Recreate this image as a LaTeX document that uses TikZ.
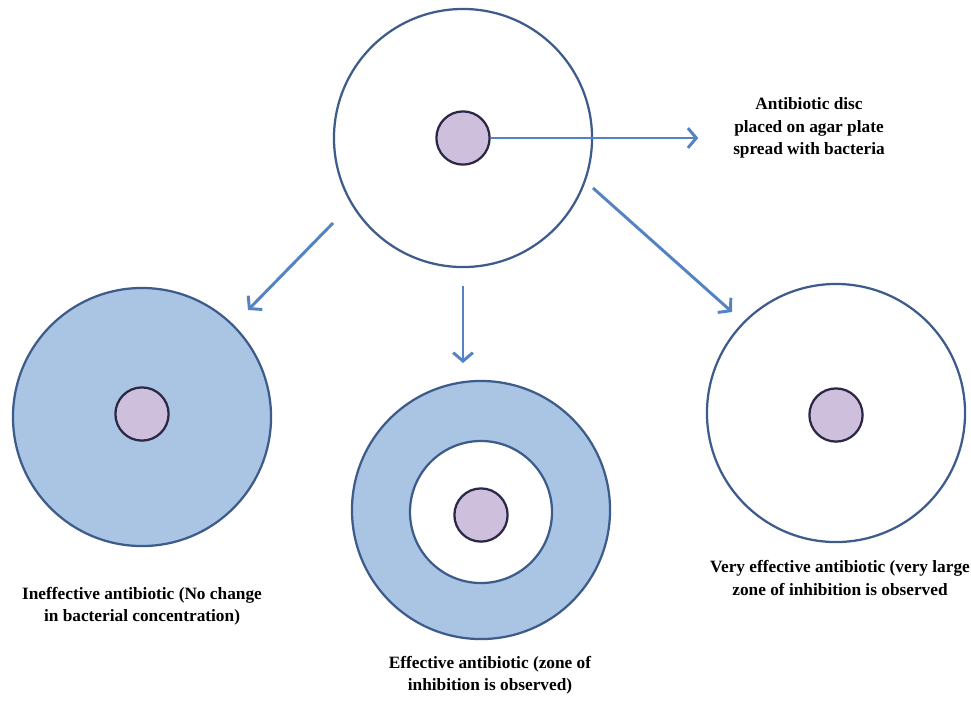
\documentclass[tikz,border=0pt]{standalone}
\usepackage{fontspec}
\setmainfont{Liberation Serif}
\usepackage{xcolor}
\usetikzlibrary{arrows.meta,positioning}
\definecolor{rim}{HTML}{3D5C8C}
\definecolor{lawn}{HTML}{A9C5E3}
\definecolor{discfill}{HTML}{CEC0DC}
\definecolor{discrim}{HTML}{2B2747}
\definecolor{arrowblue}{HTML}{5383C2}

\begin{document}
\begin{tikzpicture}[x=0.025cm,y=-0.025cm,
    plate/.style={circle,draw=rim,line width=1.6pt,fill=white,inner sep=0pt,minimum size=6.45cm},
    disc/.style={circle,draw=discrim,line width=1.6pt,fill=discfill,inner sep=0pt,minimum size=1.33cm},
    flow/.style={draw=arrowblue,line width=2.1pt,-{Straight Barb[length=6pt,width=14pt,line width=2.1pt]}},
    caption/.style={align=center,font=\fontsize{12.3}{16}\selectfont\bfseries}]
        \useasboundingbox (0,0) rectangle (971,700);

        % starting plate
        \node[plate] (top) at (463,138) {};
        \node[disc] (disc0) at (463,138) {};
        \node[caption] (note) at (809,128) {Antibiotic disc\\placed on agar plate\\spread with bacteria};
        \draw[flow] (disc0.east) -- ([xshift=-0.75cm]disc0.east -| note.west);

        % outcomes
        \node[plate,fill=lawn] (left) at (142,417) {};
        \node[disc] (disc1) at (142,414) {};
        \node[caption] (capleft) at (142,606) {Ineffective antibiotic (No change\\in bacterial concentration)};

        \node[plate,fill=lawn] (mid) at (481,510) {};
        \node[plate,minimum size=3.55cm] (zone) at (481,512) {};
        \node[disc] (disc2) at (481,515) {};
        \node[caption] (capmid) at (490,675) {Effective antibiotic (zone of\\inhibition is observed)};

        \node[plate] (right) at (836,413) {};
        \node[disc] (disc3) at (836,415) {};
        \node[caption] (capright) at (840,578) {Very effective antibiotic (very large\\zone of inhibition is observed};

        % branches
        \coordinate (leftfrom) at (333,223);
        \coordinate (leftto) at (248,310);
        \coordinate (midfrom) at (463,286);
        \coordinate (midto) at (463,363);
        \coordinate (rightfrom) at (593,188);
        \coordinate (rightto) at (732,312);
        \draw[flow] (leftfrom) -- (leftto);
        \draw[flow] (midfrom) -- (midto);
        \draw[flow] (rightfrom) -- (rightto);
\end{tikzpicture}
\end{document}
